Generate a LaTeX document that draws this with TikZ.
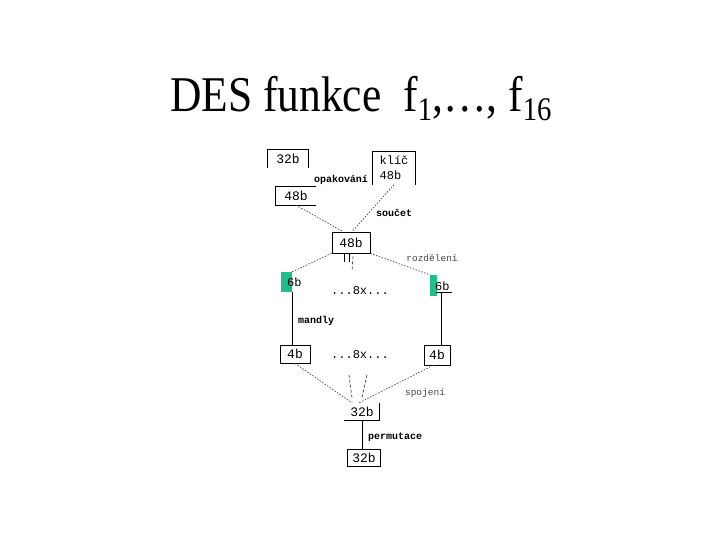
\documentclass[tikz,border=0pt]{standalone}
\usepackage{fontspec}
\setmainfont{Liberation Serif}
\newfontfamily\monofont{Liberation Mono}
\definecolor{sgreen}{RGB}{29,190,140}
\definecolor{dotgray}{RGB}{70,70,70}
\begin{document}
\begin{tikzpicture}[x=1pt,y=-1pt,
  boxtxt/.style={inner sep=0pt, font=\monofont\fontsize{13}{14}\selectfont},
  lbl/.style={inner sep=0pt, font=\monofont\bfseries\fontsize{10}{11}\selectfont},
  dots/.style={inner sep=0pt, font=\monofont\fontsize{12}{12}\selectfont},
  dotline/.style={draw=dotgray, line width=0.7pt, dash pattern=on 1.5pt off 1.5pt},
  dashline/.style={draw=dotgray, line width=0.7pt, dash pattern=on 3pt off 2pt},
  solid line/.style={draw=black, line width=0.8pt},
  fullbox/.style={boxtxt, draw, line width=0.8pt}
]
\useasboundingbox (0,0) rectangle (720,540);
% title
\node[anchor=base west, inner sep=0pt, xscale=0.87, font=\fontsize{50}{50}\selectfont] (title) at (170,112)
  {DES funkce\ \ f\raisebox{-9pt}{\fontsize{33}{33}\selectfont 1},…, f\raisebox{-9pt}{\fontsize{33}{33}\selectfont 16}};

% boxes
\node[boxtxt, minimum width=40pt, minimum height=18pt] (b32a) at (288,159) {32b};
\draw[solid line] (b32a.south west) -- (b32a.north west) -- (b32a.north east) -- (b32a.south east);

\node[boxtxt, minimum width=42pt, minimum height=33pt, align=left, font=\monofont\fontsize{12}{15}\selectfont] (key) at (394,168) {klíč\\48b};
\draw[solid line] (key.south west) -- (key.north west) -- (key.north east) -- (key.south east);

\node[boxtxt, minimum width=40pt, minimum height=18pt] (b48a) at (296,196) {48b};
\draw[solid line] (b48a.north east) -- (b48a.north west) -- (b48a.south west) -- (b48a.south east);

\node[fullbox, minimum width=38pt, minimum height=21pt] (b48c) at (351,242.5) {48b};

% green 6b blocks
\node[fill=sgreen, minimum width=11pt, minimum height=20pt, inner sep=0pt] (g6l) at (286.5,282) {};
\node[boxtxt, anchor=west, font=\monofont\fontsize{12}{12}\selectfont] (t6l) at (287,282) {6b};
\node[fill=sgreen, minimum width=7pt, minimum height=21pt, inner sep=0pt] (g6r) at (433.5,285.5) {};
\node[boxtxt, anchor=west, font=\monofont\fontsize{12}{12}\selectfont] (t6r) at (435,286) {6b};
\coordinate (r6a) at (436,292);
\coordinate (r6b) at (452,292);
\draw[solid line] (r6a) -- (r6b);

\node[fullbox, minimum width=30pt, minimum height=18pt] (b4l) at (295,354) {4b};
\node[fullbox, minimum width=26pt, minimum height=20pt] (b4r) at (437,355) {4b};

\node[boxtxt, minimum width=35pt, minimum height=17pt] (b32m) at (362,411.5) {32b};
\draw[solid line] (b32m.south west) -- (b32m.south east) -- (b32m.north east);

\node[fullbox, minimum width=33pt, minimum height=17pt] (b32f) at (364,458) {32b};

% labels
\node[lbl] (lopak) at (341,180) {opakování};
\node[lbl] (lsoucet) at (394,213) {součet};
\node[lbl, text=dotgray, font=\monofont\fontsize{9.5}{10}\selectfont] (lrozd) at (432,258) {rozdělení};
\node[lbl] (lmandly) at (316,321) {mandly};
\node[lbl, text=dotgray, font=\monofont\fontsize{9.5}{10}\selectfont] (lspoj) at (425,393) {spojení};
\node[lbl, anchor=west] (lperm) at (368,437) {permutace};
\node[dots] (d1) at (360,291) {...8x...};
\node[dots] (d2) at (360,355) {...8x...};

% connectors
\draw[dotline] (b48a.south) -- ([xshift=-8pt]b48c.north);
\draw[dotline] (key.south) -- ([xshift=1pt]b48c.north);
\draw[dotline] (b48c.south west) -- (g6l.north east);
\draw[dotline] (b48c.south east) -- (g6r.north west);
\draw[solid line] ([xshift=-7pt]b48c.south) -- ++(0,9);
\draw[solid line] ([xshift=-2pt]b48c.south) -- ++(0,9);
\draw[dashline] ([xshift=2pt,yshift=-3pt]b48c.south) -- ++(-1,15);

\draw[solid line] (g6l.south east) -- (g6l.south east |- b4l.north);
\draw[solid line] ([xshift=5pt]r6a) -- ([xshift=5pt]r6a |- b4r.north);

\draw[dotline] (b4l.south) -- ([xshift=-10pt]b32m.north);
\draw[dotline] ([xshift=-4pt]b4r.south) -- ([xshift=-3pt]b32m.north);
\draw[dashline] ([xshift=-13pt,yshift=28pt]b32m.north) -- ([xshift=-10pt,yshift=5pt]b32m.north);
\draw[dashline] ([xshift=5pt,yshift=28pt]b32m.north) -- ([xshift=0pt,yshift=5pt]b32m.north);

\draw[solid line] (b32m.south) -- (b32m.south |- b32f.north);
\end{tikzpicture}
\end{document}
